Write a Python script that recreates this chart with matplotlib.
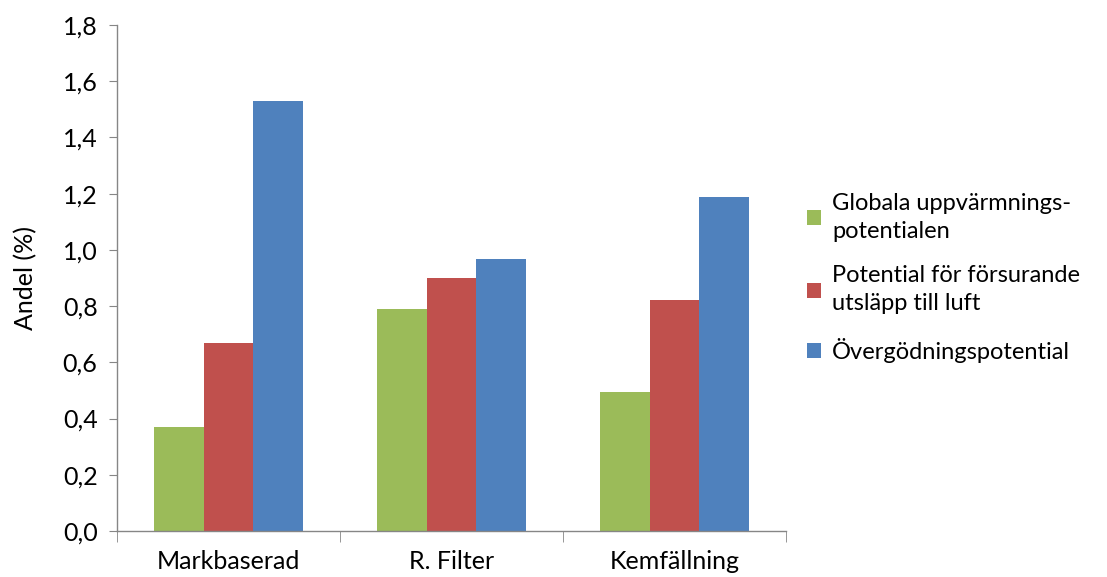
import numpy as np
import matplotlib.pyplot as plt
from matplotlib.ticker import FuncFormatter, FixedLocator

plt.rcParams['font.family'] = ['Lato', 'DejaVu Sans']

categories = ['Markbaserad', 'R. Filter', 'Kemfällning']
series_names = ['Globala uppvärmnings-\npotentialen',
                'Potential för försurande\nutsläpp till luft',
                'Övergödningspotential']
gwp = [0.37, 0.79, 0.494]
acid = [0.668, 0.90, 0.822]
eutro = [1.53, 0.968, 1.188]
colors = ['#9BBB59', '#C0504D', '#4F81BD']

fig = plt.figure(figsize=(11.07, 5.77), dpi=100)
ax = fig.add_axes([0.1057, 0.0797, 0.6043, 0.877])

x = np.arange(len(categories))
w = 0.222
for i, (vals, name, c) in enumerate(zip([gwp, acid, eutro], series_names, colors)):
    ax.bar(x + (i - 1) * w, vals, width=w, color=c, label=name, linewidth=0)

ax.set_xlim(-0.5, len(categories) - 0.5)
ax.set_ylim(0, 1.8)
ax.set_yticks(np.arange(0, 1.81, 0.2))
ax.yaxis.set_major_formatter(FuncFormatter(lambda v, p: f'{v:.1f}'.replace('.', ',')))
ax.set_xticks(x)
ax.set_xticklabels(categories)
ax.xaxis.set_minor_locator(FixedLocator(np.arange(-0.5, len(categories), 1.0)))

for s in ['top', 'right']:
    ax.spines[s].set_visible(False)
for s in ['left', 'bottom']:
    ax.spines[s].set_color('#868686')
    ax.spines[s].set_linewidth(1.0)

ax.tick_params(axis='y', direction='out', length=6, color='#868686', labelsize=18, pad=8)
ax.tick_params(axis='x', which='major', length=0, labelsize=18, pad=14)
ax.tick_params(axis='x', which='minor', direction='out', length=8, color='#868686')
ax.set_ylabel('Andel (%)', fontsize=18, labelpad=18)

leg = ax.legend(loc='center left', bbox_to_anchor=(1.0, 0.5), frameon=False, fontsize=17,
                handlelength=0.6, handleheight=0.6, handletextpad=0.45, labelspacing=1.0)
for t in leg.get_texts():
    t.set_linespacing(1.4)

fig.savefig('out.png', dpi=100)
